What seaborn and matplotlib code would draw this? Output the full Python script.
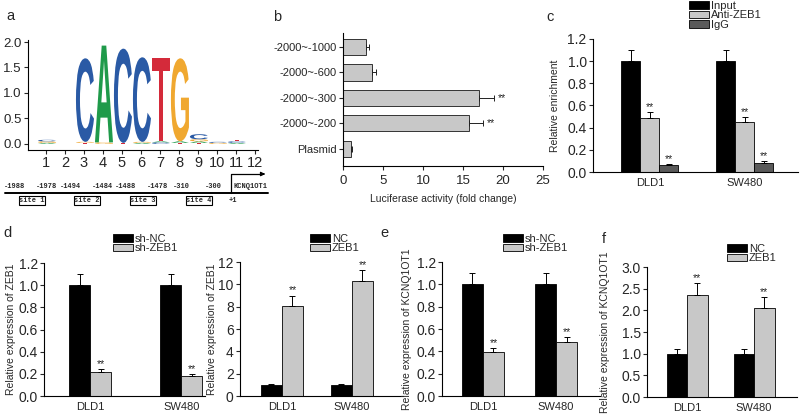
import numpy as np
import pandas as pd
import seaborn as sns
import matplotlib.pyplot as plt
import matplotlib.transforms as mtransforms
from matplotlib.textpath import TextPath
from matplotlib.patches import PathPatch, Rectangle
from matplotlib.font_manager import FontProperties
from matplotlib.ticker import FormatStrFormatter

sns.set_style("ticks")
plt.rcParams['font.family'] = ['Liberation Sans', 'DejaVu Sans']

# ---- a: motif logo (letters stacked bottom -> top at each position)
logo_pos = [1, 1, 1, 3, 3, 3, 4, 4, 5, 5, 6, 6, 6, 7, 7, 7, 8, 8, 8, 9, 9, 9, 9, 10, 10, 11, 11, 11]
logo_letters = ['A', 'G', 'C', 'T', 'G', 'C', 'G', 'A', 'T', 'C', 'A', 'G', 'C', 'C', 'A', 'T',
                'T', 'A', 'G', 'T', 'A', 'G', 'C', 'G', 'C', 'A', 'C', 'T']
logo_heights = [0.02, 0.03, 0.03, 0.02, 0.02, 1.64, 0.03, 1.9, 0.02, 1.85, 0.02, 0.02, 1.66,
                0.03, 0.02, 1.64, 0.02, 0.03, 1.63, 0.02, 0.03, 0.04, 0.1, 0.02, 0.02, 0.02, 0.03, 0.02]
logo_colors = {'A': '#1f9a4a', 'C': '#2a5aa5', 'G': '#f0a830', 'T': '#d42a3a'}

# promoter sites
site_names = ['site 1', 'site 2', 'site 3', 'site 4']
site_start = ['-1988', '-1494', '-1488', '-310']
site_end = ['-1978', '-1484', '-1478', '-300']

# ---- b: luciferase
b_labels = ['-2000~-1000', '-2000~-600', '-2000~-300', '-2000~-200', 'Plasmid']
b_values = [2.85, 3.6, 17.0, 15.8, 1.0]
b_errors = [0.4, 0.5, 1.9, 1.7, 0.1]
b_sig = ['', '', '**', '**', '']

# ---- c: ChIP
cells = ['DLD1', 'SW480']
c_series = ['Input', 'Anti-ZEB1', 'IgG']
c_values = [[1.0, 1.0], [0.49, 0.45], [0.06, 0.085]]
c_errors = [[0.1, 0.1], [0.05, 0.05], [0.012, 0.012]]
c_sig = [['', ''], ['**', '**'], ['**', '**']]

# ---- d: ZEB1 expression
d1_series = ['sh-NC', 'sh-ZEB1']
d1_values = [[1.0, 1.0], [0.22, 0.18]]
d1_errors = [[0.1, 0.1], [0.025, 0.02]]
d2_series = ['NC', 'ZEB1']
d2_values = [[1.0, 1.0], [8.1, 10.3]]
d2_errors = [[0.1, 0.1], [0.9, 1.0]]

# ---- e / f: KCNQ1OT1 expression
e_series = ['sh-NC', 'sh-ZEB1']
e_values = [[1.0, 1.0], [0.39, 0.48]]
e_errors = [[0.1, 0.1], [0.04, 0.05]]
f_series = ['NC', 'ZEB1']
f_values = [[1.0, 1.0], [2.35, 2.06]]
f_errors = [[0.1, 0.1], [0.27, 0.25]]
two_sig = [['', ''], ['**', '**']]

BLACK, LIGHT, DARK = '#000000', '#c8c8c8', '#5a5a5a'

W, H = 800, 419
fig = plt.figure(figsize=(8, 4.19), dpi=100)


def px_axes(left, top, right, bottom):
    return fig.add_axes([left / W, 1 - bottom / H, (right - left) / W, (bottom - top) / H])


def draw_letter(ax, ch, x, y, w, h, color):
    tp = TextPath((0, 0), ch, size=1, prop=FontProperties(family='Liberation Sans', weight='bold'))
    bb = tp.get_extents()
    tr = mtransforms.Affine2D().translate(-bb.x0, -bb.y0).scale(w / bb.width, h / bb.height)
    tr = tr.translate(x - w / 2, y)
    ax.add_patch(PathPatch(tr.transform_path(tp), fc=color, ec='none'))


def style_spines(ax):
    sns.despine(ax=ax)
    for s in ('left', 'bottom'):
        ax.spines[s].set_linewidth(0.8)
        ax.spines[s].set_color('black')


def grouped_bars(ax, series, values, errors, sig, colors, width, xlim, ylim, yticks, fmt,
                 ylabel, label_x, legend_xy):
    df = pd.DataFrame([(c, s, v) for s, vals in zip(series, values) for c, v in zip(cells, vals)],
                      columns=['cell', 'series', 'value'])
    sns.barplot(data=df, x='cell', y='value', hue='series', order=cells, hue_order=series,
                palette=colors, width=width, saturation=1, edgecolor='black', linewidth=0.6,
                errorbar=None, legend=False, ax=ax)
    for cont, errs, sg in zip(ax.containers, errors, sig):
        for bar, e, st in zip(cont, errs, sg):
            x = bar.get_x() + bar.get_width() / 2
            top = bar.get_height()
            ax.errorbar(x, top, yerr=[[0], [e]], fmt='none', ecolor='black',
                        elinewidth=0.7, capsize=2.5, capthick=0.7)
            if st:
                ax.text(x, top + e, st, ha='center', va='bottom', fontsize=7.5)
    ax.set_xlim(*xlim)
    ax.set_ylim(*ylim)
    ax.set_yticks(yticks)
    ax.yaxis.set_major_formatter(FormatStrFormatter(fmt))
    ax.set_xlabel('')
    style_spines(ax)
    ax.tick_params(axis='y', length=3, width=0.8, labelsize=10, pad=1.5)
    ax.tick_params(axis='x', length=0, labelsize=8, pad=4)
    ax.set_ylabel(ylabel, fontsize=7.5)
    tr = mtransforms.blended_transform_factory(fig.transFigure, ax.transAxes)
    ax.yaxis.set_label_coords((label_x + 5.5) / W, 0.5, transform=tr)
    handles = [Rectangle((0, 0), 1, 1, fc=c, ec='black', lw=0.6) for c in colors]
    ax.legend(handles, series, loc='upper left',
              bbox_to_anchor=(legend_xy[0] / W, 1 - legend_xy[1] / H),
              bbox_transform=fig.transFigure, frameon=False, fontsize=8,
              handlelength=1.8, handleheight=0.7, handletextpad=0.15,
              labelspacing=-0.05, borderpad=0, borderaxespad=0)


# ---------------- a: logo
ax_a = px_axes(28, 40, 258, 150)
stack = {}
for p, ch, h in zip(logo_pos, logo_letters, logo_heights):
    base = stack.get(p, 0.0)
    draw_letter(ax_a, ch, p + 0.05, base, 0.95, h, logo_colors[ch])
    stack[p] = base + h
ax_a.set_xlim(0.05, 12.16)
ax_a.set_ylim(-0.12, 2.04)
ax_a.set_xticks(range(1, 13))
ax_a.set_yticks(np.arange(0, 2.01, 0.5))
ax_a.yaxis.set_major_formatter(FormatStrFormatter('%.1f'))
style_spines(ax_a)
ax_a.tick_params(axis='x', length=3, width=0.8, labelsize=10.5, pad=1.5)
ax_a.tick_params(axis='y', length=3, width=0.8, labelsize=9.5, pad=1.5)

# promoter schematic (local pixel layout)
ax_p = px_axes(0, 165, 270, 212)
ax_p.set_xlim(0, 270)
ax_p.set_ylim(47, 0)
ax_p.axis('off')
ax_p.plot([5, 268], [28, 28], color='black', lw=1.4)
mono = dict(family=['Liberation Mono', 'DejaVu Sans Mono'], fontweight='bold', fontsize=5)
for i, (name, s0, s1) in enumerate(zip(site_names, site_start, site_end)):
    cx = 31.5 + 55.7 * i
    ax_p.add_patch(Rectangle((cx - 13, 31), 26, 9, fill=False, ec='black', lw=0.8))
    ax_p.text(cx, 35.5, name, ha='center', va='center', **mono)
    ax_p.text(cx - 17, 22, s0, ha='center', va='center', **mono)
    ax_p.text(cx + 15, 22, s1, ha='center', va='center', **mono)
ax_p.plot([231, 231, 262], [28, 9, 9], color='black', lw=0.9)
ax_p.annotate('', xy=(268, 9), xytext=(260, 9),
              arrowprops=dict(arrowstyle='-|>', color='black', lw=0.9, mutation_scale=6))
ax_p.text(250, 22, 'KCNQ1OT1', ha='center', va='center', **mono)
ax_p.text(233, 35, '+1', ha='center', va='center', **mono)

# ---------------- b: luciferase
ax_b = px_axes(343, 33, 543, 166)
sns.barplot(x=b_values, y=b_labels, orient='h', color=LIGHT, saturation=1, width=0.63,
            edgecolor='#333333', linewidth=0.7, errorbar=None, ax=ax_b)
ax_b.errorbar(b_values, range(len(b_values)), xerr=[np.zeros(len(b_errors)), b_errors],
              fmt='none', ecolor='#222222', elinewidth=0.7, capsize=2.5, capthick=0.7)
for i, (v, e, st) in enumerate(zip(b_values, b_errors, b_sig)):
    if st:
        ax_b.text(v + e + 0.5, i, st, ha='left', va='center', fontsize=7.5)
ax_b.set_xlim(0, 25)
ax_b.set_ylim(4.67, -0.55)
ax_b.set_xticks(range(0, 26, 5))
style_spines(ax_b)
ax_b.tick_params(axis='y', length=3, width=0.8, labelsize=8, pad=1.5)
ax_b.tick_params(axis='x', length=3, width=0.8, labelsize=9.5, pad=3.5)
ax_b.set_xlabel('Luciferase activity (fold change)', fontsize=7.5, labelpad=5)

# ---------------- c
ax_c = px_axes(593, 39, 798, 172)
grouped_bars(ax_c, c_series, c_values, c_errors, c_sig, [BLACK, LIGHT, DARK], 0.6,
             (-0.6, 1.56), (0, 1.2), np.arange(0, 1.21, 0.2), '%.1f',
             'Relative enrichment', 555, (689, 1))

# ---------------- d
ax_d1 = px_axes(44, 263, 205, 396)
grouped_bars(ax_d1, d1_series, d1_values, d1_errors, two_sig, [BLACK, LIGHT], 0.46,
             (-0.505, 1.26), (0, 1.2), np.arange(0, 1.21, 0.2), '%.1f',
             'Relative expression of ZEB1', 11, (113, 234))
ax_d2 = px_axes(240, 262, 403, 396)
grouped_bars(ax_d2, d2_series, d2_values, d2_errors, two_sig, [BLACK, LIGHT], 0.6,
             (-0.6, 1.73), (0, 12), np.arange(0, 12.1, 2), '%d',
             'Relative expression of ZEB1', 212, (310, 234))

# ---------------- e
ax_e = px_axes(442, 262, 600, 396)
grouped_bars(ax_e, e_series, e_values, e_errors, two_sig, [BLACK, LIGHT], 0.575,
             (-0.56, 1.6), (0, 1.2), np.arange(0, 1.21, 0.2), '%.1f',
             'Relative expression of KCNQ1OT1', 407, (503, 234))

# ---------------- f
ax_f = px_axes(647, 267, 797, 397)
grouped_bars(ax_f, f_series, f_values, f_errors, two_sig, [BLACK, LIGHT], 0.61,
             (-0.6, 1.64), (0, 3.0), np.arange(0, 3.01, 0.5), '%.1f',
             'Relative expression of KCNQ1OT1', 605, (727, 244))

# panel letters
for lab, x, y in [('a', 10, 16), ('b', 277, 17), ('c', 550, 17),
                  ('d', 8, 233), ('e', 384, 233), ('f', 604, 239)]:
    fig.text(x / W, 1 - y / H, lab, ha='center', va='center', fontsize=10.5)

fig.savefig('out.png', dpi=100)
